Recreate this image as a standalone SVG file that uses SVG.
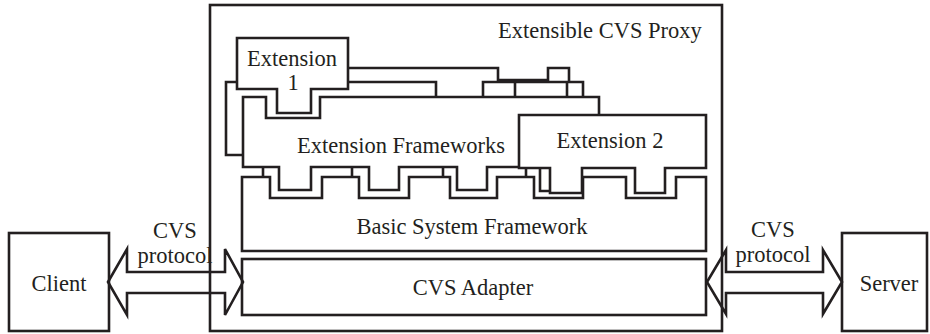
<svg xmlns="http://www.w3.org/2000/svg" width="930" height="334" viewBox="0 0 930 334">
  <style>
    .box { fill: #ffffff; stroke: #231f20; stroke-width: 2.6; stroke-linejoin: miter; }
    .ln { fill: none; stroke: #231f20; stroke-width: 2.6; stroke-linejoin: miter; }
    .arrow { fill: none; stroke: #231f20; stroke-width: 2.6; stroke-linejoin: miter; }
    .lbl { font-family: "Liberation Serif", "Times New Roman", serif; font-size: 22.5px; fill: #231f20; text-anchor: middle; }
  </style>

  <!-- container -->
  <g id="proxy">
    <rect class="box" x="210" y="5" width="512" height="326"/>
    <text class="lbl" x="600" y="38">Extensible CVS Proxy</text>
  </g>

  <g id="client">
    <rect class="box" x="9" y="233" width="100" height="98"/>
    <text class="lbl" x="59" y="291">Client</text>
  </g>

  <g id="server">
    <rect class="box" x="842" y="233" width="85" height="98"/>
    <text class="lbl" x="889" y="291">Server</text>
  </g>

  <g id="cvs-adapter">
    <rect class="box" x="242" y="259" width="464" height="56"/>
    <text class="lbl" x="473" y="295">CVS Adapter</text>
  </g>

  <g id="basic-system-framework">
    <polygon class="box" points="242,251 242,177 270,177 270,198 322,198 322,177 359,177 359,198 409,198 409,177 450,177 450,198 497,198 497,177 534,177 534,198 583,198 583,177 626,177 626,198 676,198 676,177 706,177 706,251"/>
    <text class="lbl" x="472" y="234">Basic System Framework</text>
  </g>

  <!-- outlines of the stacked layers behind the framework -->
  <g id="layer-edges">
    <polyline class="ln" points="237,82 226,82 226,155 243,155"/>
    <polyline class="ln" points="348,68 498,68 498,80 548,80 548,68 569,68 569,82"/>
    <polyline class="ln" points="348,82 436,82 436,97"/>
    <polyline class="ln" points="483,97 483,82 583,82 583,97"/>
    <line class="ln" x1="515" y1="82" x2="515" y2="97"/>
    <line class="ln" x1="567" y1="82" x2="567" y2="97"/>
    <line class="ln" x1="263" y1="167" x2="263" y2="177"/>
    <line class="ln" x1="352" y1="167" x2="352" y2="177"/>
    <line class="ln" x1="443" y1="167" x2="443" y2="177"/>
    <line class="ln" x1="526" y1="167" x2="526" y2="177"/>
  </g>

  <g id="extension-frameworks">
    <polygon class="box" points="243,97 266,97 266,118 320,118 320,97 599,97 599,167 570,167 570,191 540,191 540,167 487,167 487,190 457,190 457,167 399,167 399,190 369,190 369,167 311,167 311,190 279,190 279,167 243,167"/>
    <text class="lbl" x="401" y="153">Extension Frameworks</text>
  </g>

  <g id="extension-1">
    <polygon class="box" points="237,38 348,38 348,89 311,89 311,113 277,113 277,89 237,89"/>
    <text class="lbl" x="292" y="66">Extension</text>
    <text class="lbl" x="293" y="90">1</text>
  </g>

  <g id="extension-2">
    <polygon class="box" points="519,115 706,115 706,168 665,168 665,193 635,193 635,168 582,168 582,193 550,193 550,168 519,168"/>
    <text class="lbl" x="610" y="148">Extension 2</text>
  </g>

  <!-- protocol links -->
  <g id="connectors">
    <polygon class="arrow" points="108,282 127,249 127,272 225,272 225,249 243,282 225,315 225,293 127,293 127,315"/>
    <polygon class="arrow" points="707,282 726,250 726,272 823,272 823,250 842,282 823,314 823,293 726,293 726,314"/>
    <text class="lbl" x="175" y="238">CVS</text>
    <text class="lbl" x="175" y="263">protocol</text>
    <text class="lbl" x="773" y="237">CVS</text>
    <text class="lbl" x="773" y="262">protocol</text>
  </g>
</svg>
